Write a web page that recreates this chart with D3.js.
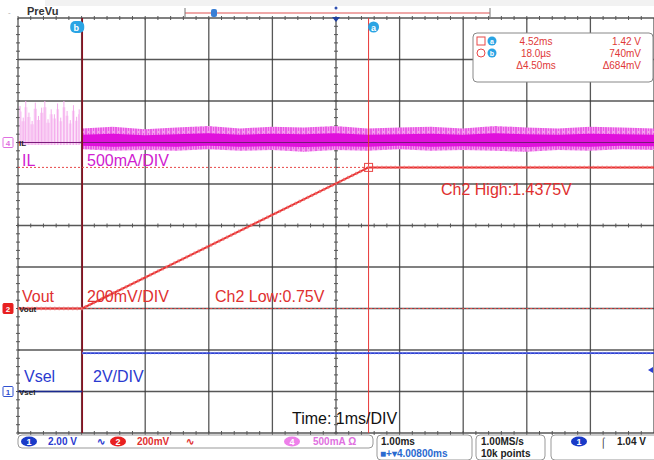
<!DOCTYPE html>
<html><head><meta charset="utf-8">
<script src="https://cdn.jsdelivr.net/npm/d3@7"></script>
<style>body{margin:0;background:#fff}svg{display:block}text{font-family:"Liberation Sans",Arial,sans-serif}</style>
</head><body><svg id="c" width="654" height="460"></svg>
<script>
// ---- data ----
const timeDomain = [-0.992, 9.008];          // ms, 1 ms/div, 10 divisions
const divDomain = [-5, 5];                    // vertical divisions
// Vsel (Ch1, 2 V/div)
const vselT = [-0.992, 0.018, 0.018, 9.008];
const vselV = [0, 0, 1.85, 1.85];
// Vout (Ch2, 200 mV/div)
const voutT = [-0.992, 0.018, 4.52, 9.008];
const voutV = [0.74, 0.74, 1.42, 1.42];
const ch2HighLevel = 1.42, ch2LowLevel = 0.74;
// IL (Ch4, 500 mA/div) – pre-trigger pulses
const ilSpikeT = [-0.96,-0.91,-0.87,-0.82,-0.77,-0.72,-0.67,-0.62,-0.57,-0.52,-0.47,-0.42,-0.37,-0.32,-0.27,-0.22,-0.17,-0.12,-0.07,-0.03];
const ilSpikeA = [0.44,0.30,0.50,0.36,0.26,0.48,0.32,0.42,0.50,0.28,0.40,0.34,0.47,0.30,0.50,0.38,0.27,0.45,0.31,0.40];
// IL post-trigger ripple envelope
const ilBandT = [0.018,0.5,1,1.5,2,2.5,3,3.5,4,4.5,5,5.5,6,6.5,7,7.5,8,8.5,9.008];
const ilBandHi = [0.17,0.19,0.16,0.18,0.2,0.17,0.19,0.18,0.2,0.17,0.18,0.19,0.17,0.2,0.18,0.17,0.19,0.18,0.17];
const ilBandLo = [-0.08,-0.1,-0.09,-0.1,-0.08,-0.1,-0.09,-0.11,-0.09,-0.1,-0.08,-0.1,-0.09,-0.1,-0.11,-0.09,-0.1,-0.08,-0.09];
// cursors
const cursorB = 0.018, cursorA = 4.52, trigLevel = 1.04;
const readout = [["4.52ms","1.42 V"],["18.0\u00b5s","740mV"],["\u03944.50ms","\u0394684mV"]];

// ---- scales ----
const svg = d3.select("#c");
const L = 18, R = 654, T = 18, B = 433;
const x = d3.scaleLinear().domain(timeDomain).range([L, R]);
const yDiv = d3.scaleLinear().domain(divDomain).range([B, T]);
const y1 = d3.scaleLinear().domain([0, 2]).range([yDiv(-4), yDiv(-3)]);
const y2 = d3.scaleLinear().domain([ch2LowLevel, ch2LowLevel + 0.2]).range([yDiv(-2), yDiv(-1)]);
const y4 = d3.scaleLinear().domain([0, 0.5]).range([yDiv(2), yDiv(3)]);

// textures
const defs = svg.append("defs");
const p1 = defs.append("pattern").attr("id","noise").attr("patternUnits","userSpaceOnUse").attr("width",5).attr("height",6);
p1.append("rect").attr("width",5).attr("height",6).attr("fill","#f39cee");
p1.append("line").attr("x1",1).attr("x2",1).attr("y1",0).attr("y2",6).attr("stroke","#e020dc").attr("stroke-width",1);
p1.append("line").attr("x1",3.5).attr("x2",3.5).attr("y1",1).attr("y2",5).attr("stroke","#ea50e6").attr("stroke-width",1);
const p2 = defs.append("pattern").attr("id","pre").attr("patternUnits","userSpaceOnUse").attr("width",3).attr("height",4);
p2.append("rect").attr("width",3).attr("height",4).attr("fill","#fbe0f8");
p2.append("line").attr("x1",1).attr("x2",1).attr("y1",0).attr("y2",4).attr("stroke","#f5b4ef").attr("stroke-width",1);

// ---- top bar ----
svg.append("rect").attr("x",45).attr("y",0).attr("width",609).attr("height",6).attr("fill","#f2f2f2");
svg.append("text").attr("x",8).attr("y",15).attr("font-size",8).attr("fill","#aaa").text("-");
svg.append("text").attr("x",27).attr("y",15).attr("font-size",11).attr("font-weight","bold").attr("fill","#333").text("PreVu");
svg.append("line").attr("x1",185).attr("x2",490).attr("y1",13).attr("y2",13).attr("stroke","#e05050").attr("stroke-width",1);
[185,490].forEach(v=>svg.append("line").attr("x1",v).attr("x2",v).attr("y1",8).attr("y2",17).attr("stroke","#777"));
svg.append("rect").attr("x",211).attr("y",9).attr("width",6).attr("height",8).attr("rx",2).attr("fill","#3a7fd5");
svg.append("circle").attr("cx",x(4.008)).attr("cy",8).attr("r",1.5).attr("fill","#3050b0");

// ---- grid ----
const g = svg.append("g");
const xt = d3.range(0, 11).map(i => timeDomain[0] + i);
const yt = d3.range(-5, 6);
g.selectAll(".vg").data(xt).enter().append("line")
  .attr("x1", d=>x(d)).attr("x2", d=>x(d)).attr("y1", T).attr("y2", B)
  .attr("stroke", "#3a3a3a").attr("stroke-width", 1.3).attr("opacity", 0.85);
g.selectAll(".hg").data(yt).enter().append("line")
  .attr("x1", L).attr("x2", R).attr("y1", d=>yDiv(d)).attr("y2", d=>yDiv(d))
  .attr("stroke", "#3a3a3a").attr("stroke-width", 1.3).attr("opacity", 0.85);
// minor ticks
const xm = d3.range(0, 50).map(i => timeDomain[0] + i*0.2);
const ym = d3.range(0, 50).map(i => -5 + i*0.2);
const tk = svg.append("g").attr("stroke","#555").attr("stroke-width",1);
[T, yDiv(0), B].forEach(yy => xm.forEach(t => tk.append("line").attr("x1",x(t)).attr("x2",x(t)).attr("y1",yy-2).attr("y2",yy+2)));
[L, x(4.008)].forEach(xx => ym.forEach(d => tk.append("line").attr("x1",xx-2).attr("x2",xx+2).attr("y1",yDiv(d)).attr("y2",yDiv(d))));

// ---- IL ----
const il = svg.append("g");
il.append("path").datum(ilSpikeT.map((t,i)=>[t, ilSpikeA[i]]))
  .attr("d", d3.area().x(d=>x(d[0])).y0(y4(-0.03)).y1(d=>y4(d[1]*0.85)).curve(d3.curveStep))
  .attr("fill","url(#pre)").attr("opacity",0.9);
il.selectAll(".sp").data(ilSpikeT).enter().append("line")
  .attr("x1",d=>x(d)).attr("x2",d=>x(d)).attr("y1",y4(-0.03)).attr("y2",(d,i)=>y4(ilSpikeA[i]))
  .attr("stroke","#f4aaec").attr("stroke-width",1);
const band = ilBandT.map((t,i)=>[t, ilBandHi[i], ilBandLo[i]]);
il.append("path").datum(band)
  .attr("d", d3.area().x(d=>x(d[0])).y0(d=>y4(d[2])).y1(d=>y4(d[1])))
  .attr("fill","url(#noise)");
il.append("path").datum(band)
  .attr("d", d3.area().x(d=>x(d[0])).y0(d=>y4(d[2]*0.5)).y1(d=>y4(d[1]*0.55)))
  .attr("fill","#e010dc");
il.append("line").attr("x1",L).attr("x2",R).attr("y1",y4(0)).attr("y2",y4(0))
  .attr("stroke","#7a1a7a").attr("stroke-width",1.2);

// ---- cursors ----
svg.append("line").attr("x1",x(cursorB)).attr("x2",x(cursorB)).attr("y1",T).attr("y2",B).attr("stroke","#8a1020").attr("stroke-width",1.6);
svg.append("line").attr("x1",x(cursorA)).attr("x2",x(cursorA)).attr("y1",T).attr("y2",B).attr("stroke","#e83838").attr("stroke-width",1);

// ---- Ch2 level lines ----
svg.append("line").attr("x1",L).attr("x2",x(cursorA)).attr("y1",y2(ch2HighLevel)).attr("y2",y2(ch2HighLevel))
  .attr("stroke","#e84848").attr("stroke-width",1).attr("stroke-dasharray","2,2");
svg.append("line").attr("x1",x(cursorB)).attr("x2",R).attr("y1",y2(ch2LowLevel)).attr("y2",y2(ch2LowLevel))
  .attr("stroke","#e84848").attr("stroke-width",1).attr("stroke-dasharray","2,2");

// ---- Vout ----
const vout = voutT.map((t,i)=>[t, voutV[i]]);
svg.append("path").datum(vout).attr("d", d3.line().x(d=>x(d[0])).y(d=>y2(d[1])))
  .attr("fill","none").attr("stroke","#e83030").attr("stroke-width",2);
svg.append("path").datum(vout).attr("d", d3.line().x(d=>x(d[0])).y(d=>y2(d[1])))
  .attr("fill","none").attr("stroke","#f07878").attr("stroke-width",3.4).attr("stroke-dasharray","1.5,3").attr("opacity",0.75);
svg.append("rect").attr("x",x(cursorA)-4).attr("y",y2(voutV[2])-4).attr("width",8).attr("height",8)
  .attr("fill","none").attr("stroke","#e84848").attr("stroke-width",1);

// ---- Vsel ----
const vsel = vselT.map((t,i)=>[t, vselV[i]]);
svg.append("path").datum(vsel.slice(0,2)).attr("d", d3.line().x(d=>x(d[0])).y(d=>y1(d[1])))
  .attr("fill","none").attr("stroke","#1a2a90").attr("stroke-width",1.5);
svg.append("path").datum(vsel.slice(2)).attr("d", d3.line().x(d=>x(d[0])).y(d=>y1(d[1])))
  .attr("fill","none").attr("stroke","#2d3fd0").attr("stroke-width",1.8);
svg.append("path").datum(vsel.slice(2)).attr("d", d3.line().x(d=>x(d[0])).y(d=>y1(d[1])))
  .attr("fill","none").attr("stroke","#8090f0").attr("stroke-width",2.6).attr("stroke-dasharray","1,3").attr("opacity",0.6);
// trigger level arrow
svg.append("path").attr("d",`M${R-1},${y1(trigLevel)-3}L${R-6},${y1(trigLevel)}L${R-1},${y1(trigLevel)+3}Z`).attr("fill","#2d3fd0");

// trigger position marker
svg.append("path").attr("d",`M${x(4.008)-4},${T-1}L${x(4.008)+4},${T-1}L${x(4.008)},${T+4}Z`).attr("fill","#2040a0");

// cursor labels
svg.append("rect").attr("x",x(cursorB)-12).attr("y",21).attr("width",14).attr("height",12).attr("rx",5).attr("fill","#2aa4e4");
svg.append("text").attr("x",x(cursorB)-6).attr("y",30.5).attr("text-anchor","middle").attr("font-size",9).attr("font-weight","bold").attr("fill","#fff").text("b");
svg.append("circle").attr("cx",x(cursorA)+5).attr("cy",27).attr("r",5.5).attr("fill","#2aa4e4");
svg.append("text").attr("x",x(cursorA)+5).attr("y",30.5).attr("text-anchor","middle").attr("font-size",9).attr("font-weight","bold").attr("fill","#fff").text("a");

// ---- readout box ----
const rb = svg.append("g");
rb.append("rect").attr("x",473).attr("y",33).attr("width",180).attr("height",49).attr("rx",4).attr("fill","#fff").attr("stroke","#888").attr("stroke-width",1);
rb.append("rect").attr("x",477).attr("y",37).attr("width",8).attr("height",8).attr("fill","none").attr("stroke","#e84848");
rb.append("circle").attr("cx",481).attr("cy",53).attr("r",4).attr("fill","none").attr("stroke","#e84848");
[["a",41],["b",53]].forEach(([t,cy])=>{
  rb.append("circle").attr("cx",492).attr("cy",cy).attr("r",4.5).attr("fill","#2aa4e4");
  rb.append("text").attr("x",492).attr("y",cy+3).attr("text-anchor","middle").attr("font-size",7).attr("font-weight","bold").attr("fill","#fff").text(t);
});
readout.forEach((r,i)=>{
  rb.append("text").attr("x",536).attr("y",45+i*12).attr("text-anchor","middle").attr("font-size",10).attr("fill","#e03838").text(r[0]);
  rb.append("text").attr("x",641).attr("y",45+i*12).attr("text-anchor","end").attr("font-size",10).attr("fill","#e03838").text(r[1]);
});

// ---- channel markers at left ----
function marker(yy, num, fill, stroke, tcol, name){
  svg.append("rect").attr("x",3).attr("y",yy-5).attr("width",10).attr("height",10).attr("rx",1)
    .attr("fill",fill).attr("stroke",stroke);
  svg.append("text").attr("x",8).attr("y",yy+3.5).attr("text-anchor","middle").attr("font-size",8).attr("font-weight","bold").attr("fill",tcol).text(num);
  svg.append("text").attr("x",19).attr("y",yy+3).attr("font-size",8).attr("font-weight","bold").attr("fill","#222").text(name);
}
marker(y4(0), "4", "#fff", "#e070e0", "#e070e0", "IL");
marker(y2(ch2LowLevel), "2", "#e82020", "#e82020", "#fff", "Vout");
marker(y1(0), "1", "#fff", "#3050d0", "#3050d0", "Vsel");

// ---- annotations ----
const ann = [
  {t:"IL", x:22, y:166, c:"#d020d0"}, {t:"500mA/DIV", x:87, y:166, c:"#d020d0"},
  {t:"Ch2 High:1.4375V", x:441, y:195, c:"#e03030"},
  {t:"Vout", x:22, y:302, c:"#e03030"}, {t:"200mV/DIV", x:87, y:302, c:"#e03030"},
  {t:"Ch2 Low:0.75V", x:215, y:302, c:"#e03030"},
  {t:"Vsel", x:24, y:382, c:"#2a3ad0"}, {t:"2V/DIV", x:93, y:382, c:"#2a3ad0"},
  {t:"Time: 1ms/DIV", x:292, y:424, c:"#111"}
];
svg.selectAll(".ann").data(ann).enter().append("text")
  .attr("x",d=>d.x).attr("y",d=>d.y).attr("font-size",16).attr("fill",d=>d.c).text(d=>d.t);

// ---- bottom status bar ----
const sb = svg.append("g");
function box(x0,y0,w,h){ sb.append("rect").attr("x",x0).attr("y",y0).attr("width",w).attr("height",h).attr("rx",4).attr("fill","#fff").attr("stroke","#999"); }
box(18,435,355,13); box(377,435,95,25); box(476,435,69,25); box(551,435,110,25);
function pill(cx, num, fill, tcol){
  sb.append("ellipse").attr("cx",cx).attr("cy",441.5).attr("rx",8).attr("ry",5).attr("fill",fill);
  sb.append("text").attr("x",cx).attr("y",445).attr("text-anchor","middle").attr("font-size",9).attr("font-weight","bold").attr("fill",tcol).text(num);
}
pill(29,"1","#1a3ac8","#fff"); pill(118,"2","#e82020","#fff"); pill(292,"4","#ee80ea","#fff"); pill(579,"1","#1a3ac8","#fff");
const st = [
  {t:"2.00 V", x:48, y:445, c:"#2a3ad0"}, {t:"\u223f", x:97, y:445, c:"#2a3ad0"},
  {t:"200mV", x:137, y:445, c:"#e03030"}, {t:"\u223f", x:186, y:445, c:"#e03030"},
  {t:"500mA \u03a9", x:313, y:445, c:"#e070e0"},
  {t:"1.00ms", x:381, y:445, c:"#222"}, {t:"\u25a0+\u25be4.00800ms", x:380, y:457, c:"#2a6ad0"},
  {t:"1.00MS/s", x:481, y:445, c:"#222"}, {t:"10k points", x:481, y:457, c:"#222"},
  {t:"\u2320", x:600, y:446, c:"#222"}, {t:"1.04 V", x:617, y:445, c:"#222"}
];
sb.selectAll(".st").data(st).enter().append("text").attr("x",d=>d.x).attr("y",d=>d.y)
  .attr("font-size",10).attr("font-weight","bold").attr("fill",d=>d.c).text(d=>d.t);
</script></body></html>
